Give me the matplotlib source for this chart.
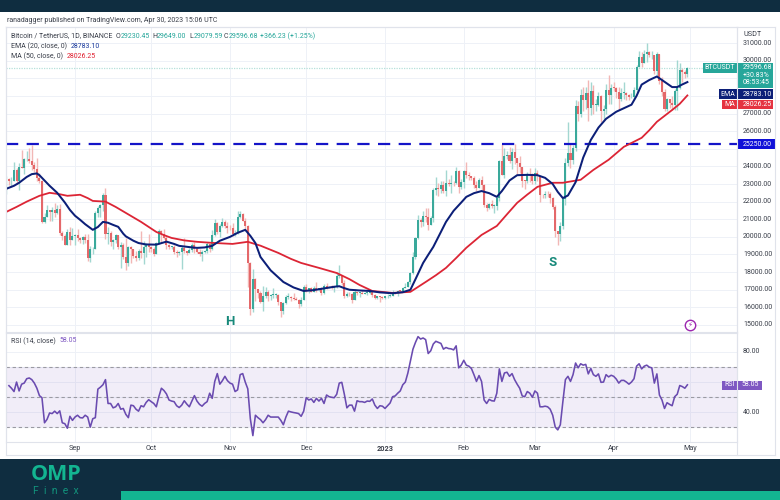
import numpy as np
import pandas as pd
import matplotlib
matplotlib.use("Agg")
import matplotlib.pyplot as plt
from matplotlib.patches import Rectangle

plt.rcParams['font.family'] = ['Roboto', 'DejaVu Sans']

first_open = 22600
close_aug = [23300,23150,23170,23810,23150,23950,23930,24400,24440,24300,24100,23850,23340,23190,20830,21140,21510,21400,21530,21370,21560,20240,20030,19550,20280,19800,20050]
close_sep = [20130,19950,19830,20000,19800,18790,19290,19320,21360,21650,21830,22400,20170,20220,19700,19800,20110,19420,19540,18880,18490,19400,19290,18920,18800,19220,19080,19410,19590,19420]
close_oct = [19310,19050,19630,20330,20160,19950,19530,19420,19440,19130,19060,19150,19380,19180,19070,19260,19550,19330,19120,19040,19160,19200,19570,19330,20080,20770,20290,20600,20820,20630,20490]
close_nov = [20480,20150,20200,21150,21300,20920,20600,18540,15880,17600,17070,16800,16330,16620,16900,16660,16690,16700,16700,16280,15780,16230,16600,16600,16520,16460,16430,16210,16440,17170]
close_dec = [16970,17090,16890,17110,16970,17090,16840,17220,17130,17130,17080,17210,17780,17810,17360,16630,16780,16740,16440,16900,16820,16830,16780,16840,16840,16920,16700,16550,16630,16600,16540]
close_jan = [16620,16670,16670,16850,16830,16950,16940,17120,17180,17440,17940,18850,19930,20950,20870,21190,21130,20680,21080,22670,22780,22710,22920,22630,23060,23010,23080,23030,23740,22830,23130]
close_feb = [23730,23490,23430,23330,22930,22760,23250,22960,21800,21630,21860,21780,21780,22200,24330,23520,24570,24630,24280,24840,24450,24190,23940,23190,23160,23560,23490,23150]
close_mar = [23630,23470,22360,22350,22430,22410,22200,21700,20360,20190,20630,22160,24200,24750,24380,25050,27420,26960,28040,27770,28170,27310,28300,27490,27490,28000,27140,27270,28350,28030,28470]
close_apr = [28460,28200,27800,28170,28170,28030,27910,27950,28330,29650,30230,29880,30390,30480,30300,30310,29430,30390,28820,28240,27260,27820,27590,27510,28300,28420,29470,29340,29230,29596.68]

high_aug = [23470,23350,23390,24240,23930,24220,24920,24450,24890,25050,25210,24260,24450,23600,23200,21380,21800,21520,21680,21900,21820,21880,20350,20150,20430,20580,20490]
low_aug = [22420,22930,22850,23150,22980,22660,23900,23580,24280,24180,23770,23680,23180,23080,20760,20760,21100,20890,20890,21150,21310,20100,19800,19520,19550,19520,19800]
high_sep = [20190,20450,20000,20050,20160,20180,19460,19450,21440,21780,21840,22490,22790,20540,20330,19900,20190,20100,19690,19630,19950,19490,19500,19310,19180,19310,20340,19790,19650,20180]
low_sep = [19560,19760,19650,19600,19640,18650,18590,19000,19300,21100,21150,21450,19860,19620,19500,19320,19630,19340,18230,18730,18130,18360,18530,18800,18630,18680,18820,18470,18840,19160]
high_oct = [19480,19400,19710,20470,20370,20460,20060,19600,19510,19530,19270,19220,19510,19950,19220,19390,19680,19700,19350,19340,19250,19260,19700,19600,20410,21020,20870,20750,21090,20930,20840]
low_oct = [19160,18920,19020,19600,19730,19880,19340,19320,19310,19020,18860,18970,18190,19080,18970,19060,19150,19100,19070,18900,18650,19110,19070,19160,19240,20050,20190,20000,20560,20530,20240]
high_nov = [20700,20800,20390,21470,21480,21360,21050,20670,18590,18150,17660,17050,16940,17190,17130,17000,16750,17110,16820,16740,16290,16320,16680,16810,16620,16820,16600,16480,16560,17250]
low_nov = [20380,20050,20030,20170,21080,20900,20380,17170,15590,15750,16360,16530,16250,15820,16530,16360,16420,16550,16550,16140,15480,15630,16170,16460,16350,16400,16400,15990,16090,16420]
high_dec = [17320,17110,17150,17200,17420,17110,17140,17300,17360,17230,17270,17240,18000,18390,17850,17530,16860,16870,16820,17060,16900,16860,16960,16870,16860,16930,16970,16780,16660,16640,16650]
low_dec = [16860,16790,16860,16880,16870,16910,16690,16730,17070,17090,17070,16870,17080,17660,17280,16530,16580,16660,16260,16400,16720,16560,16750,16790,16700,16780,16600,16470,16490,16330,16470]
high_jan = [16630,16760,16780,16990,16880,17000,16990,17170,17400,17490,18000,19120,19970,21260,21080,21470,21610,21650,21190,22750,23370,23080,23170,23170,23800,23280,23500,23180,23950,23820,23300]
low_jan = [16490,16550,16600,16650,16750,16670,16910,16910,17100,17140,17320,17880,18720,19880,20550,20600,20850,20400,20660,20850,22400,22300,22480,22470,22320,22880,22500,22880,22980,22500,22710]
high_feb = [23800,24250,23700,23450,23440,23160,23340,23450,22980,21950,21900,22090,21880,22320,24380,25250,25020,24860,25120,25020,25250,24470,24600,23880,23220,23690,23880,23600]
low_feb = [22760,23360,23200,23240,22750,22630,22750,22660,21690,21450,21590,21630,21350,21530,22050,23500,23350,24440,24200,23830,24150,23570,23600,22850,22720,23050,23100,23020]
high_mar = [23880,23790,23480,22420,22600,22600,22560,22270,21820,20300,20850,22190,24500,26500,25250,25200,27760,27720,28400,28530,28500,28900,28800,28600,27800,28200,28050,27500,28650,29170,28650]
low_mar = [23020,23180,21980,22200,22200,22250,21930,21580,19990,19550,19770,20430,21810,24000,23900,24120,24900,26600,26800,27150,27250,26600,26900,27000,27150,27400,26500,26650,27000,27520,27540]
high_apr = [28800,28500,28500,28450,28780,28200,28100,28150,28500,29770,30550,30480,30600,31000,30550,30550,30320,30500,30400,29100,28380,27900,27820,28000,28400,30030,29880,29600,29450,29649]
low_apr = [28250,27900,27200,27700,27800,27750,27780,27880,27800,28180,29620,29650,29850,29950,30220,30120,29270,29100,28650,28000,27130,27120,27320,27200,27200,27200,28370,28800,29000,29079.59]

ema_dates = ["2022-08-05","2022-08-08","2022-08-10","2022-08-13","2022-08-15","2022-08-17","2022-08-18","2022-08-20","2022-08-22","2022-08-25","2022-08-28","2022-08-30","2022-09-01","2022-09-03","2022-09-05","2022-09-08","2022-09-10","2022-09-12","2022-09-14","2022-09-16","2022-09-18","2022-09-20","2022-09-21","2022-09-24","2022-09-26","2022-09-29","2022-10-03","2022-10-07","2022-10-10","2022-10-12","2022-10-16","2022-10-19","2022-10-22","2022-10-25","2022-10-28","2022-11-01","2022-11-04","2022-11-07","2022-11-09","2022-11-11","2022-11-13","2022-11-17","2022-11-22","2022-11-26","2022-11-30","2022-12-04","2022-12-09","2022-12-12","2022-12-14","2022-12-16","2022-12-18","2022-12-22","2022-12-26","2022-12-30","2023-01-04","2023-01-08","2023-01-11","2023-01-13","2023-01-16","2023-01-18","2023-01-20","2023-01-23","2023-01-25","2023-01-28","2023-01-31","2023-02-02","2023-02-05","2023-02-08","2023-02-11","2023-02-14","2023-02-16","2023-02-19","2023-02-22","2023-02-26","2023-03-02","2023-03-05","2023-03-08","2023-03-10","2023-03-12","2023-03-14","2023-03-17","2023-03-20","2023-03-23","2023-03-26","2023-03-29","2023-04-02","2023-04-05","2023-04-08","2023-04-10","2023-04-12","2023-04-15","2023-04-18","2023-04-21","2023-04-24","2023-04-26","2023-04-28","2023-04-30"]
ema_vals = [22730,22900,23070,23400,23560,23600,23500,23200,22900,22500,21950,21530,21200,20970,20720,20400,20560,20850,20800,20680,20570,20180,20030,19780,19650,19570,19560,19730,19600,19490,19420,19375,19400,19490,19780,20000,20230,20400,20060,19650,18860,18100,17440,17130,16930,16980,17100,17170,17200,17090,17000,16960,16930,16850,16800,16860,17000,17600,18520,18980,19430,20280,20850,21480,21950,22270,22480,22600,22480,22270,22600,23200,23500,23520,23500,23350,23000,22550,22200,22350,23100,24500,25500,26200,26700,27100,27300,27500,28000,28640,28900,29100,28800,28500,28500,28650,28783.10]
ma_dates = ["2022-08-05","2022-08-09","2022-08-13","2022-08-18","2022-08-22","2022-08-26","2022-08-29","2022-09-03","2022-09-06","2022-09-08","2022-09-13","2022-09-17","2022-09-21","2022-09-27","2022-10-03","2022-10-06","2022-10-09","2022-10-14","2022-10-19","2022-10-25","2022-11-02","2022-11-08","2022-11-13","2022-11-20","2022-11-25","2022-11-29","2022-12-06","2022-12-13","2022-12-18","2022-12-22","2022-12-27","2023-01-04","2023-01-11","2023-01-17","2023-01-21","2023-01-25","2023-01-29","2023-02-02","2023-02-08","2023-02-14","2023-02-18","2023-02-22","2023-02-26","2023-03-02","2023-03-08","2023-03-12","2023-03-19","2023-03-24","2023-03-30","2023-04-05","2023-04-12","2023-04-15","2023-04-18","2023-04-24","2023-04-27","2023-04-30"]
ma_vals = [21420,21700,22000,22330,22500,22420,22330,22390,22200,22040,22000,21700,21360,20850,20280,20100,19940,19800,19720,19660,19600,19720,19500,19090,18750,18520,18240,17950,17600,17270,16930,16820,16880,17440,17820,18240,18800,19380,20110,20620,21280,21930,22400,22840,23070,23070,23240,23800,24375,25110,25620,26050,26530,27200,27550,28026.25]

rsi_vals = [57.5,55.8,53.6,59.9,54.0,58.5,59.2,62.1,62.6,61.5,59.2,55.8,50.9,49.5,32.9,35.2,39.4,39.0,40.6,39.0,40.8,32.9,32.3,29.3,37.2,34.5,36.7,37.9,36.3,36.1,37.9,36.7,30.0,35.6,36.3,55.2,56.5,58.1,61.5,45.7,45.7,42.8,43.5,45.7,41.9,42.4,38.5,36.3,44.6,44.2,41.9,40.6,44.2,43.5,46.4,48.2,46.9,45.7,43.5,50.2,55.8,54.3,52.0,48.0,47.3,46.9,44.2,43.0,44.6,47.5,45.3,43.5,47.3,50.9,47.3,45.1,43.9,45.7,46.9,52.5,49.1,60.3,65.5,58.5,60.8,63.7,60.8,59.2,58.5,53.6,54.7,64.8,65.5,59.9,55.4,35.6,24.4,37.9,36.3,35.0,32.9,35.0,37.9,36.7,36.7,36.7,36.7,34.5,31.6,36.7,40.6,40.1,39.7,39.4,39.0,37.2,40.6,49.5,48.0,48.7,46.4,49.1,47.3,49.1,45.7,51.3,50.2,49.8,49.5,51.8,59.2,59.7,51.8,42.8,44.6,44.6,40.6,47.5,46.9,46.9,46.4,47.3,47.1,48.7,44.6,42.4,44.2,43.9,42.4,44.2,46.0,
            50.2,50.7,52.5,54.0,58.1,59.9,65.9,73.8,81.7,86.2,90.0,88.4,89.1,88.0,78.8,80.6,85.1,86.9,86.2,85.5,81.7,82.8,82.1,81.9,81.2,83.9,69.3,71.1,74.3,71.1,70.4,68.9,64.8,60.3,64.2,60.3,48.0,45.7,48.4,47.5,47.3,52.5,68.6,60.3,65.9,66.4,63.7,65.5,61.5,58.5,55.8,50.7,50.2,53.6,52.5,49.8,54.0,52.5,43.5,43.5,43.9,43.5,41.9,37.9,30.0,28.2,31.6,46.9,61.5,63.7,60.3,64.8,72.5,69.3,72.0,71.1,71.6,65.3,68.9,64.8,63.7,65.3,59.7,59.9,64.8,63.3,64.4,63.7,61.9,59.2,61.0,61.0,59.9,58.5,59.9,62.1,70.4,72.0,68.6,70.4,71.1,69.8,69.3,59.2,65.3,51.3,48.0,42.4,46.2,45.1,44.2,50.2,51.8,57.6,56.9,55.8,58.05]

month_labels = ["Sep", "Oct", "Nov", "Dec", "2023", "Feb", "Mar", "Apr", "May"]
month_dates = ["2022-09-01","2022-10-01","2022-11-01","2022-12-01","2023-01-01","2023-02-01","2023-03-01","2023-04-01","2023-05-01"]
price_ticks = [15000,16000,17000,18000,19000,20000,21000,22000,23000,24000,25000,26000,27000,28000,29000,30000,31000]
rsi_ticks = [40, 80]
resistance = 25250

closes = close_aug+close_sep+close_oct+close_nov+close_dec+close_jan+close_feb+close_mar+close_apr
highs = high_aug+high_sep+high_oct+high_nov+high_dec+high_jan+high_feb+high_mar+high_apr
lows = low_aug+low_sep+low_oct+low_nov+low_dec+low_jan+low_feb+low_mar+low_apr
closes, highs, lows = map(np.array, (closes, highs, lows))
opens = np.r_[first_open, closes[:-1]]
dates = pd.date_range("2022-08-05", periods=len(closes))
highs = np.maximum.reduce([highs, opens, closes])
lows = np.minimum.reduce([lows, opens, closes])

W, H = 780, 500
fig = plt.figure(figsize=(W/100, H/100), dpi=100, facecolor="white")
def ax_px(l, t, r, b, **k):
    return fig.add_axes([l/W, 1-b/H, (r-l)/W, (b-t)/H], **k)

ax = ax_px(6, 27, 737, 332)
ax2 = ax_px(6, 333, 737, 441.5)
t0 = pd.Timestamp("2022-09-01")
xl = (t0 + pd.Timedelta(days=(6-75)/2.541), t0 + pd.Timedelta(days=(737-75)/2.541))
GRID = "#eef1f7"
for a in (ax, ax2):
    a.set_xlim(*xl)
    a.set_xticks(pd.to_datetime(month_dates))
    a.set_xticklabels([])
    a.tick_params(length=0, labelleft=False, labelright=False)
    a.grid(True, color=GRID, lw=0.7)
    a.set_axisbelow(True)
    for s in a.spines.values():
        s.set_color("#e0e3eb"); s.set_linewidth(0.8)

ax.set_ylim(14602, 31909)
ax.set_yticks(price_ticks)
ax2.set_ylim(20.5, 92.4)
ax2.set_yticks([30, 40, 50, 60, 70, 80])

UP, DOWN = "#3aa99b", "#e4686a"
cols = np.where(closes >= opens, UP, DOWN)
wick = np.where(closes >= opens, "#a3d7d1", "#f2b7b5")
ax.vlines(dates, lows, highs, colors=wick, lw=1.0, zorder=2)
ax.bar(dates, np.maximum(np.abs(closes-opens), 40), bottom=np.minimum(opens, closes),
       width=0.8, color=cols, lw=0, zorder=3)
ax.axhline(closes[-1], color="#b6e0da", lw=0.9, ls=(0, (1, 1)), zorder=2)
ax.axhline(resistance, color="#1414c8", lw=1.6, ls=(0, (5.5, 3.8)), zorder=4)
ax.plot(pd.to_datetime(ma_dates), ma_vals, color="#dc2535", lw=1.3, zorder=5)
ax.plot(pd.to_datetime(ema_dates), ema_vals, color="#0c1f78", lw=1.45, zorder=6)

ax.text(pd.Timestamp("2022-11-01"), 15220, "H", color="#17897a", fontsize=9.5, fontweight="bold", ha="center", va="center")
ax.text(pd.Timestamp("2023-03-08"), 18530, "S", color="#17897a", fontsize=9.5, fontweight="bold", ha="center", va="center")

ax.plot([pd.Timestamp("2023-05-01")], [15020], "o", ms=7.5, mfc="white", mec="#9c27b0", mew=1, zorder=6)
ax.text(pd.Timestamp("2023-05-01"), 15020, "\u26a1", color="#9c27b0", fontsize=5, ha="center", va="center",
        family="DejaVu Sans", zorder=7)

ax2.axhspan(30, 70, color="#7e57c2", alpha=0.10, lw=0)
for lv in (30, 50, 70):
    ax2.axhline(lv, color="#9a9aa2", lw=0.8, ls=(0, (3, 2.5)))
rsi_dates = pd.date_range(end="2023-04-30", periods=len(rsi_vals))
ax2.plot(rsi_dates, rsi_vals, color="#6a4bb0", lw=1.15, zorder=4)

# overlay in pixel coordinates for chrome
ov = fig.add_axes([0, 0, 1, 1], zorder=20)
ov.set_xlim(0, W); ov.set_ylim(H, 0); ov.axis("off"); ov.patch.set_alpha(0)
NAVY = "#0f2d40"; TEAL = "#13b591"
def rect(x0, y0, x1, y1, c):
    ov.add_patch(Rectangle((x0, y0), x1-x0, y1-y0, fc=c, ec="none"))
def txt(x, y, s, c="#3a3f4a", fs=5.0, ha="left", **k):
    ov.text(x, y, s, color=c, fontsize=fs, ha=ha, va="center", **k)

rect(0, 0, W, 12, NAVY)
rect(0, 459, W, 500, NAVY)
rect(121, 491, W, 500, TEAL)
ov.plot([775, 775], [27, 455], color="#e0e3eb", lw=0.8)
ov.plot([737, 737], [27, 455], color="#e0e3eb", lw=0.8)
ov.plot([6, 6], [27, 455], color="#e0e3eb", lw=0.8)
ov.plot([6, 775], [455, 455], color="#e0e3eb", lw=0.8)
ov.plot([6, 775], [27, 27], color="#e0e3eb", lw=0.8)

txt(7, 20.5, "ranadagger published on TradingView.com, Apr 30, 2023 15:06 UTC", fs=5.0)

G = "#26a69a"
txt(11, 36, "Bitcoin / TetherUS, 1D, BINANCE", fs=5.0)
for x, lab, val in [(116, "O", "29230.45"), (152, "H", "29649.00"), (189, "L", "29079.59"), (224, "C", "29596.68")]:
    txt(x, 36, lab, fs=5.0)
    txt(x+4.5, 36, val, c=G, fs=5.0)
txt(260, 36, "+366.23 (+1.25%)", c=G, fs=5.0)
txt(11, 46, "EMA (20, close, 0)", fs=5.0)
txt(71, 46, "28783.10", c="#1a3a9c", fs=5.0)
txt(11, 56, "MA (50, close, 0)", fs=5.0)
txt(67, 56, "28026.25", c="#e02030", fs=5.0)
txt(11, 341, "RSI (14, close)", fs=5.0)
txt(60, 341, "58.05", c="#7e57c2", fs=5.0)

for p in price_ticks:
    y = 325 - (p-15000)*0.0176
    if p in (15000, 16000, 17000, 18000, 19000, 20000, 21000, 22000, 23000, 24000, 26000, 27000, 30000, 31000):
        txt(743, y, f"{p}.00", fs=5.0)
txt(743, 35, "USDT", fs=5.2)
for r in rsi_ticks:
    txt(743, 397-(r-50)*1.51, f"{r}.00", fs=5.0)

for lab, d in zip(month_labels, month_dates):
    x = 75 + 2.541*(pd.Timestamp(d)-t0).days
    txt(x, 449, lab, fs=5.2, ha="center", fontweight="bold" if lab == "2023" else "normal")

# value tags
rect(703, 63, 737, 72.5, "#26a69a")
txt(720, 67.5, "BTCUSDT", c="white", fs=5, ha="center")
rect(737.5, 63, 773, 87.5, "#26a69a")
txt(743, 67.5, "29596.68", c="white", fs=5.0)
txt(743, 75.5, "+30.83%", c="white", fs=5.0)
txt(743, 83, "08:53:45", c="white", fs=5.0)
rect(719, 89, 737, 98.5, "#0c1f78")
txt(728, 94, "EMA", c="white", fs=5, ha="center")
rect(737.5, 89, 773, 98.5, "#0c1f78")
txt(743, 94, "28783.10", c="white", fs=5.0)
rect(722, 99.5, 737, 108.5, "#e53340")
txt(729.5, 104, "MA", c="white", fs=5, ha="center")
rect(737.5, 99.5, 773, 108.5, "#e53340")
txt(743, 104, "28026.25", c="white", fs=5.0)
rect(737.5, 139, 775, 148.5, "#1010d8")
txt(743, 144, "25250.00", c="white", fs=5.0)
rect(722, 381, 737, 389.5, "#7e57c2")
txt(729.5, 385, "RSI", c="white", fs=5, ha="center")
rect(737.5, 381, 762, 389.5, "#7e57c2")
txt(741, 385, "58.05", c="white", fs=5.0)

# footer logo
txt(31, 474.5, "OMP", c=TEAL, fs=15.5, fontweight="bold", family="Open Sans")
ov.text(33, 491.5, "F  i  n  e  x", color=TEAL, fontsize=7.5, ha="left", va="center", alpha=0.75)

fig.savefig("out.png", dpi=100, facecolor="white")
